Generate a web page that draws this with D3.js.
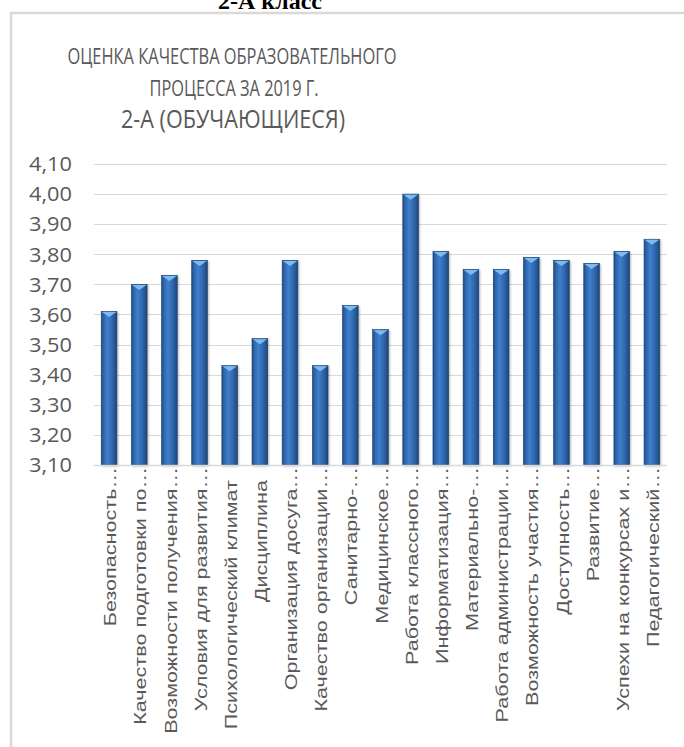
<!DOCTYPE html>
<html>
<head>
<meta charset="utf-8">
<script src="https://cdn.jsdelivr.net/npm/d3@7"></script>
<style>
  body { margin: 0; background: #fff; }
  svg text { fill: #595959; }
</style>
</head>
<body>
<div id="chart"></div>
<script>
// data
const pageHeading = "2-А класс";
const titleLines = ["ОЦЕНКА КАЧЕСТВА ОБРАЗОВАТЕЛЬНОГО", "ПРОЦЕССА ЗА 2019 Г.", "2-А (ОБУЧАЮЩИЕСЯ)"];
const categories = [
  "Безопасность…", "Качество подготовки по…", "Возможности получения…", "Условия для развития…",
  "Психологический климат", "Дисциплина", "Организация досуга…", "Качество организации…",
  "Санитарно-…", "Медицинское…", "Работа классного…", "Информатизация…", "Материально-…",
  "Работа администрации…", "Возможность участия…", "Доступность…", "Развитие…",
  "Успехи на конкурсах и…", "Педагогический…"
];
const values = [3.61, 3.70, 3.73, 3.78, 3.43, 3.52, 3.78, 3.43, 3.63, 3.55, 4.00,
                3.81, 3.75, 3.75, 3.79, 3.78, 3.77, 3.81, 3.85];
const yTicks = [3.1, 3.2, 3.3, 3.4, 3.5, 3.6, 3.7, 3.8, 3.9, 4.0, 4.1];

const width = 684, height = 747;
const plot = {left: 94, right: 667, top: 164, bottom: 465};

const svg = d3.select("#chart").append("svg")
  .attr("width", width)
  .attr("height", height);

// page heading, cut off by the top edge as in the source
svg.append("text")
  .attr("x", 270).attr("y", 9)
  .attr("text-anchor", "middle")
  .style("font-family", "'Liberation Serif', 'Times New Roman', serif")
  .style("font-weight", "bold")
  .style("font-size", "24px")
  .style("fill", "#000")
  .text(pageHeading);

// chart frame
svg.append("rect")
  .attr("x", 11).attr("y", 13)
  .attr("width", 700).attr("height", 760)
  .attr("fill", "none")
  .attr("stroke", "#d9d9d9")
  .attr("stroke-width", 2.5);

// titles
const titleFont = "'Open Sans', 'Noto Sans', sans-serif";
const titleSpecs = [
  {y: 64, size: 21, len: 329, x: 232},
  {y: 96, size: 21, len: 169, x: 234},
  {y: 128, size: 26, len: 224, x: 233}
];
titleLines.forEach((t, i) => {
  const s = titleSpecs[i];
  svg.append("text")
    .attr("x", s.x).attr("y", s.y)
    .attr("text-anchor", "middle")
    .attr("textLength", s.len)
    .attr("lengthAdjust", "spacingAndGlyphs")
    .style("font-family", titleFont)
    .style("font-size", s.size + "px")
    .text(t);
});

// scales
const x = d3.scaleBand()
  .domain(categories)
  .range([plot.left, plot.right])
  .paddingInner(0.48)
  .paddingOuter(0.24);

const y = d3.scaleLinear()
  .domain([3.1, 4.1])
  .range([plot.bottom, plot.top]);

const fmt = v => d3.format(".2f")(v).replace(".", ",");

// gridlines
svg.append("g")
  .selectAll("line")
  .data(yTicks)
  .join("line")
    .attr("x1", plot.left).attr("x2", plot.right)
    .attr("y1", d => Math.round(y(d)) + 0.5)
    .attr("y2", d => Math.round(y(d)) + 0.5)
    .attr("stroke", "#d9d9d9")
    .attr("stroke-width", 1.2);

// y axis labels
svg.append("g")
  .selectAll("text")
  .data(yTicks)
  .join("text")
    .attr("x", 72)
    .attr("y", d => y(d))
    .attr("dy", "0.36em")
    .attr("text-anchor", "end")
    .attr("textLength", 43)
    .attr("lengthAdjust", "spacingAndGlyphs")
    .style("font-family", titleFont)
    .style("font-size", "20px")
    .text(fmt);

// bar styling
const defs = svg.append("defs");
const grad = defs.append("linearGradient")
  .attr("id", "barGrad")
  .attr("x1", "0%").attr("x2", "100%").attr("y1", "0%").attr("y2", "0%");
grad.append("stop").attr("offset", "0%").attr("stop-color", "#1f4a80");
grad.append("stop").attr("offset", "15%").attr("stop-color", "#2f66ad");
grad.append("stop").attr("offset", "40%").attr("stop-color", "#3f7fcc");
grad.append("stop").attr("offset", "75%").attr("stop-color", "#2d62a7");
grad.append("stop").attr("offset", "100%").attr("stop-color", "#1d4577");

defs.append("filter")
    .attr("id", "shadow")
    .attr("x", "-50%").attr("y", "-10%")
    .attr("width", "200%").attr("height", "120%")
  .append("feDropShadow")
    .attr("dx", 1).attr("dy", 1)
    .attr("stdDeviation", 1.2)
    .attr("flood-color", "#000")
    .attr("flood-opacity", 0.3);

const bars = svg.append("g")
  .selectAll("g")
  .data(categories.map((c, i) => ({c, v: values[i]})))
  .join("g");

bars.append("rect")
  .attr("x", d => x(d.c))
  .attr("y", d => y(d.v))
  .attr("width", x.bandwidth())
  .attr("height", d => y(3.1) - y(d.v))
  .attr("fill", "url(#barGrad)")
  .attr("stroke", "#1c416f")
  .attr("stroke-width", 0.6)
  .attr("filter", "url(#shadow)");

// light bevel on top of each bar
bars.append("path")
  .attr("d", d => {
    const x0 = x(d.c) + 0.6, x1 = x(d.c) + x.bandwidth() - 0.6, t = y(d.v) + 0.6;
    return `M${x0},${t}L${x1},${t}L${(x0 + x1) / 2},${t + 5}Z`;
  })
  .attr("fill", "#7cbaf0");

// axis line
svg.append("line")
  .attr("x1", plot.left).attr("x2", plot.right)
  .attr("y1", plot.bottom + 0.5).attr("y2", plot.bottom + 0.5)
  .attr("stroke", "#d9d9d9")
  .attr("stroke-width", 1.5);

// category labels, rotated and stretched along the text like the source;
// untruncated labels sit a little further from the axis
const labelStretch = 1.27;
svg.append("g")
  .selectAll("text")
  .data(categories)
  .join("text")
    .attr("transform", d => {
      const gap = d.endsWith("…") ? 2 : 15;
      return `translate(${x(d) + x.bandwidth() / 2 + 1},${plot.bottom + gap}) rotate(-90) scale(${labelStretch},1)`;
    })
    .attr("dy", "0.36em")
    .attr("text-anchor", "end")
    .style("font-family", "'Liberation Sans', Arial, sans-serif")
    .style("font-size", "17px")
    .text(d => d);
</script>
</body>
</html>
